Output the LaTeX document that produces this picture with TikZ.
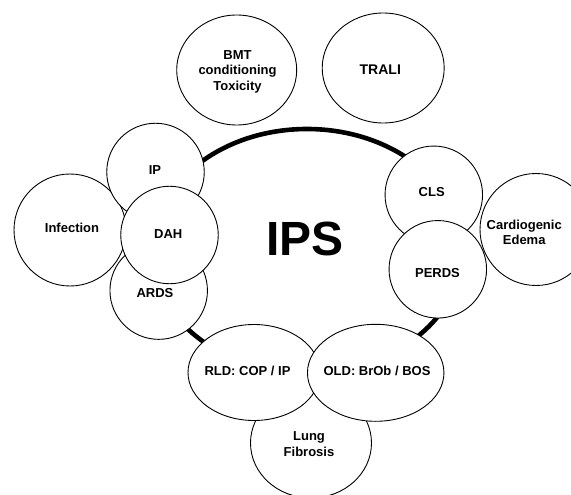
\documentclass[tikz,border=0pt]{standalone}
\usepackage{fontspec}
\setmainfont{Liberation Sans}
\usetikzlibrary{shapes.geometric}
\begin{document}
\begin{tikzpicture}[x=1pt,y=-1pt,
  bubble/.style={ellipse, draw=black, line width=0.9pt, fill=white, inner sep=0pt},
  lbl/.style={font=\bfseries\fontsize{13}{15.5}\selectfont, align=center, text=black, inner sep=0pt},
]
\useasboundingbox (0,0) rectangle (571,495);
\clip (0,0) rectangle (571,495);
\fill[white] (0,0) rectangle (571,495);

% central ring
\node[ellipse, draw=black, line width=4.6pt, minimum width=310pt, minimum height=244pt, inner sep=0pt] (ring) at (307,251) {};

% top bubbles
\node[bubble, minimum width=120pt, minimum height=110pt] (bmt) at (236.7,70) {};
\node[bubble, minimum width=122pt, minimum height=110pt] (trali) at (383.2,68) {};

% left cluster
\node[bubble, minimum width=112pt, minimum height=112pt] (infection) at (70,230) {};
\node[bubble, minimum width=97.5pt, minimum height=97.5pt] (ip) at (155.5,172) {};
\node[bubble, minimum width=97.5pt, minimum height=97.5pt] (ards) at (158.7,290.6) {};
\node[bubble, minimum width=97.5pt, minimum height=97.5pt] (dah) at (169.5,235) {};

% right cluster
\node[bubble, minimum width=112pt, minimum height=112pt] (cardio) at (536,229.5) {};
\node[bubble, minimum width=97.5pt, minimum height=97.5pt] (cls) at (433.8,194.8) {};
\node[bubble, minimum width=97.5pt, minimum height=97.5pt] (perds) at (437.8,269.3) {};

% bottom cluster
\node[bubble, minimum width=121pt, minimum height=110pt] (lung) at (311,443) {};
\node[bubble, minimum width=132pt, minimum height=96pt] (rld) at (254,372.5) {};
\node[bubble, minimum width=136.5pt, minimum height=97pt] (old) at (375.7,372.8) {};

% labels
\node[font=\bfseries\fontsize{48}{48}\selectfont, inner sep=0pt] (ips) at (305.3,238.8) {IPS};
\node[lbl] (t-bmt) at (237.5,71.7) {BMT\\conditioning\\Toxicity};
\node[lbl, font=\bfseries\fontsize{14}{16}\selectfont] (t-trali) at (380.3,70) {TRALI};
\node[lbl] (t-infection) at (72,228.3) {Infection};
\node[lbl] (t-ip) at (155,170) {IP};
\node[lbl] (t-dah) at (168.3,234.3) {DAH};
\node[lbl] (t-ards) at (155,292.7) {ARDS};
\node[lbl] (t-cls) at (431.7,192.3) {CLS};
\node[lbl] (t-cardio) at (524.2,232.5) {Cardiogenic\\Edema};
\node[lbl] (t-perds) at (437.5,272.7) {PERDS};
\node[lbl] (t-rld) at (247.5,371) {RLD: COP / IP};
\node[lbl] (t-old) at (377,371) {OLD: BrOb / BOS};
\node[lbl] (t-lung) at (309,444) {Lung\\Fibrosis};
\end{tikzpicture}
\end{document}
